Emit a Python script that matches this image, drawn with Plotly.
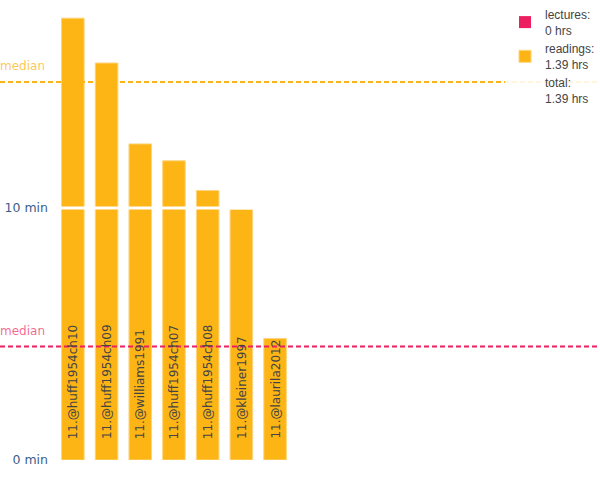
import plotly.graph_objects as go

sources = ["11.@huff1954ch10", "11.@huff1954ch09", "11.@williams1991",
           "11.@huff1954ch07", "11.@huff1954ch08", "11.@kleiner1997",
           "11.@laurila2012"]
reading_minutes = [17.53, 15.75, 12.54, 11.87, 10.69, 9.95, 4.82]
lecture_minutes = [0, 0, 0, 0, 0, 0, 0]
reading_median = 15.0
lecture_median = 4.5
tick_vals = [0, 10]
tick_text = ["0 min", "10 min"]

gold = "#FDB515"
rose = "#EE1F60"
blue = "#3B5E88"
font_main = "DejaVu Sans"

lec_hrs = round(sum(lecture_minutes) / 60, 2)
read_hrs = round(sum(reading_minutes) / 60, 2)
tot_hrs = round(lec_hrs + read_hrs, 2)

fig = go.Figure()
fig.add_trace(go.Bar(x=sources, y=lecture_minutes, name="lectures:<br>%g hrs" % lec_hrs,
                     marker=dict(color=rose, line=dict(width=0))))
fig.add_trace(go.Bar(x=sources, y=reading_minutes, name="readings:<br>%g hrs" % read_hrs,
                     marker=dict(color=gold, line=dict(color="#FED47E", width=1))))
fig.add_trace(go.Bar(x=sources, y=[0] * len(sources), name="total:<br>%g hrs" % tot_hrs,
                     marker=dict(color="rgba(0,0,0,0)", line=dict(width=0))))

# labels sitting inside the bars
for s in sources:
    fig.add_annotation(x=s, y=0, text=s, textangle=-90, showarrow=False,
                       yanchor="bottom", yshift=19,
                       font=dict(family=font_main, size=12, color="#444"))

left = -56 / 544
# white break at 10 min (only across the bars)
fig.add_shape(type="line", xref="paper", x0=0, x1=1, y0=10, y1=10,
              line=dict(color="white", width=3), layer="above")
# median lines
for val, col, lab_col in [(reading_median, gold, "rgba(253,181,21,0.75)"),
                          (lecture_median, rose, "rgba(238,31,96,0.7)")]:
    fig.add_shape(type="line", xref="paper", x0=left, x1=1, y0=val, y1=val,
                  line=dict(color=col, width=2, dash="5px,3px"), layer="above")
    fig.add_annotation(xref="paper", x=left, y=val, text="median", showarrow=False,
                       xanchor="left", yanchor="bottom", yshift=7, xshift=-2,
                       font=dict(family=font_main, size=12, color=lab_col))

fig.update_layout(
    width=600, height=480,
    margin=dict(l=56, r=0, t=0, b=20),
    barmode="overlay", bargap=0.33,
    plot_bgcolor="white", paper_bgcolor="white",
    showlegend=True,
    legend=dict(x=1, xanchor="right", y=1.0, yanchor="top",
                bgcolor="rgba(255,255,255,0.85)", tracegroupgap=0,
                font=dict(family="Liberation Sans", size=12, color="#444")),
    xaxis=dict(type="category", range=[-0.5, 15.64], showticklabels=False,
               showgrid=False, zeroline=False, showline=False),
    yaxis=dict(range=[0, 18.25], tickvals=tick_vals, ticktext=tick_text,
               showgrid=False, zeroline=False, showline=False,
               ticklabelstandoff=7,
               tickfont=dict(family=font_main, size=12.5, color=blue)),
)

fig.write_html("out.html", config={"displayModeBar": False},
               post_script="document.body.style.margin='0px';")
